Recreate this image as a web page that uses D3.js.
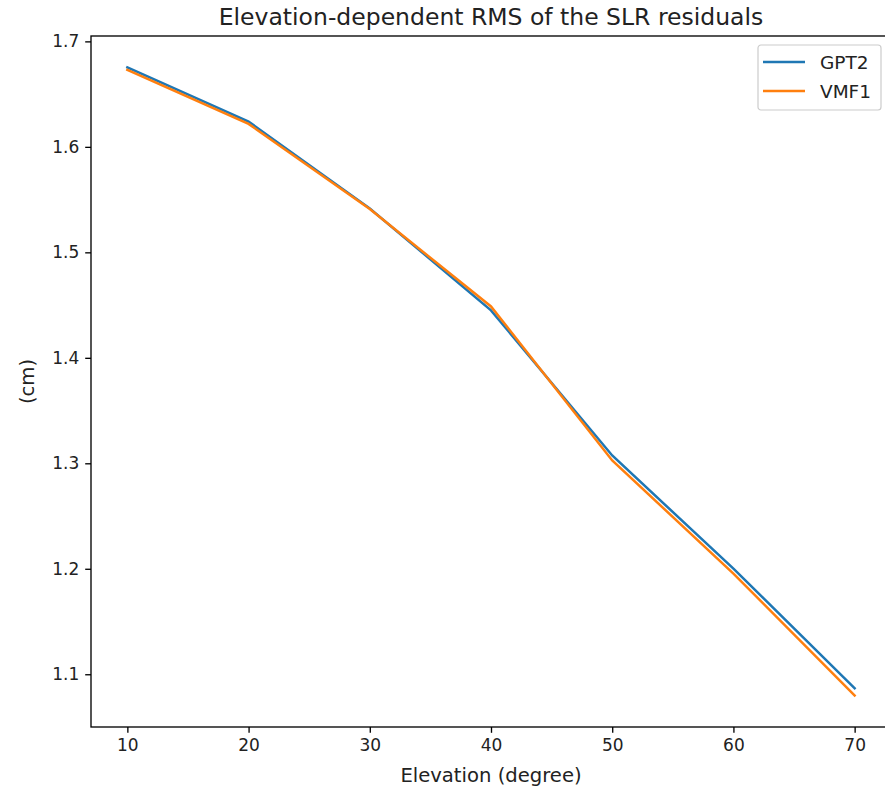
<!doctype html>
<html lang="en">
<head>
  <meta charset="utf-8">
  <title>Elevation-dependent RMS</title>
  <script src="https://cdn.jsdelivr.net/npm/d3@7"></script>
  <style>
    body { margin: 0; background: #fff; }
    svg { font-family: "DejaVu Sans", sans-serif; display: block; }
  </style>
</head>
<body>
<div id="chart"></div>

<script>
// data
var elevation = [10, 20, 30, 40, 50, 60, 70];
var gpt2 = [1.6753, 1.6240, 1.5416, 1.4450, 1.3074, 1.2002, 1.0867];
var vmf1 = [1.6730, 1.6218, 1.5410, 1.4487, 1.3027, 1.1955, 1.0798];
var seriesNames = ["GPT2", "VMF1"];
var seriesColors = ["#1f77b4", "#ff7f0e"];
var xTicks = [10, 20, 30, 40, 50, 60, 70];
var yTicks = [1.1, 1.2, 1.3, 1.4, 1.5, 1.6, 1.7];

var width = 885, height = 788;
var margin = {left: 91, right: -6, top: 36, bottom: 61};

var svg = d3.select("#chart").append("svg")
    .attr("width", width)
    .attr("height", height);

var x = d3.scaleLinear().domain([7, 73]).range([margin.left, width - margin.right]);
var y = d3.scaleLinear().domain([1.0500, 1.7051]).range([height - margin.bottom, margin.top]);

// lines
var series = [gpt2, vmf1];
var line = d3.line()
    .x(function(d, i) { return x(elevation[i]); })
    .y(function(d) { return y(d); });

series.forEach(function(s, k) {
  svg.append("path")
      .datum(s)
      .attr("fill", "none")
      .attr("stroke", seriesColors[k])
      .attr("stroke-width", 2.5)
      .attr("stroke-linecap", "square")
      .attr("d", line);
});

// axes
var xAxis = d3.axisBottom(x).tickValues(xTicks).tickSize(5.8).tickPadding(6);
var yAxis = d3.axisLeft(y).tickValues(yTicks).tickSize(5.8).tickPadding(6)
    .tickFormat(d3.format(".1f"));

var gx = svg.append("g")
    .attr("transform", "translate(0," + (height - margin.bottom) + ")")
    .call(xAxis);
var gy = svg.append("g")
    .attr("transform", "translate(" + margin.left + ",0)")
    .call(yAxis);

[gx, gy].forEach(function(g) {
  g.select(".domain").remove();
  g.selectAll(".tick line").attr("stroke", "#000").attr("stroke-width", 1.33);
  g.selectAll(".tick text").attr("font-size", "17px").attr("fill", "#222")
      .attr("font-family", "DejaVu Sans");
});

// frame (spines)
svg.append("rect")
    .attr("x", margin.left)
    .attr("y", margin.top)
    .attr("width", width - margin.right - margin.left)
    .attr("height", height - margin.bottom - margin.top)
    .attr("fill", "none")
    .attr("stroke", "#000")
    .attr("stroke-width", 1.33);

// title and labels
svg.append("text")
    .attr("x", (margin.left + width - margin.right) / 2)
    .attr("y", 25)
    .attr("text-anchor", "middle")
    .attr("font-size", "23.5px")
    .attr("fill", "#222")
    .text("Elevation-dependent RMS of the SLR residuals");

svg.append("text")
    .attr("x", (margin.left + width - margin.right) / 2)
    .attr("y", 782)
    .attr("text-anchor", "middle")
    .attr("font-size", "19.6px")
    .attr("fill", "#222")
    .text("Elevation (degree)");

svg.append("text")
    .attr("transform", "translate(34," + ((margin.top + height - margin.bottom) / 2) + ") rotate(-90)")
    .attr("text-anchor", "middle")
    .attr("font-size", "19.6px")
    .attr("fill", "#222")
    .text("(cm)");

// legend
var legend = svg.append("g").attr("transform", "translate(758,45)");
legend.append("rect")
    .attr("width", 123)
    .attr("height", 65)
    .attr("rx", 3)
    .attr("fill", "#fff")
    .attr("fill-opacity", 0.8)
    .attr("stroke", "#ccc")
    .attr("stroke-width", 1.2);

seriesNames.forEach(function(name, k) {
  var row = legend.append("g").attr("transform", "translate(0," + (17 + k * 29) + ")");
  row.append("line")
      .attr("x1", 5).attr("x2", 47)
      .attr("stroke", seriesColors[k])
      .attr("stroke-width", 2.5);
  row.append("text")
      .attr("x", 62)
      .attr("y", 7)
      .attr("font-size", "18.5px")
      .attr("fill", "#222")
      .text(name);
});
</script>
</body>
</html>
